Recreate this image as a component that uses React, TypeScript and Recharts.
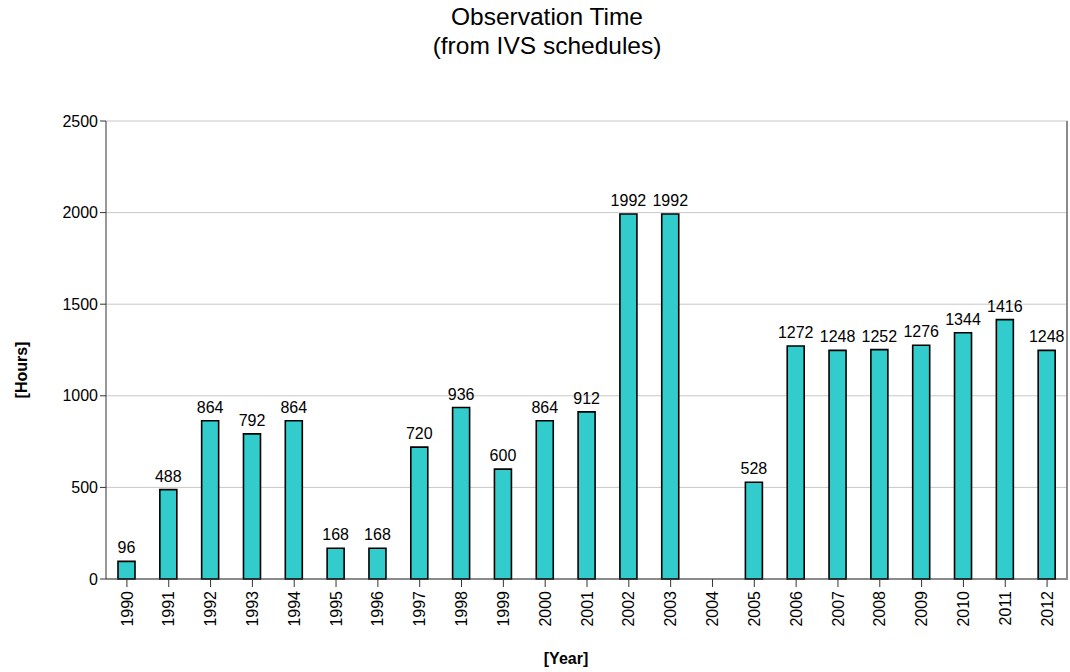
import React from 'react';
import { BarChart, Bar, XAxis, YAxis, CartesianGrid, LabelList } from 'recharts';

const years = ['1990', '1991', '1992', '1993', '1994', '1995', '1996', '1997', '1998', '1999', '2000', '2001',
  '2002', '2003', '2004', '2005', '2006', '2007', '2008', '2009', '2010', '2011', '2012'];
const hours: (number | null)[] = [96, 488, 864, 792, 864, 168, 168, 720, 936, 600, 864, 912,
  1992, 1992, null, 528, 1272, 1248, 1252, 1276, 1344, 1416, 1248];
const yTicks = [0, 500, 1000, 1500, 2000, 2500];

const data = years.map((year, i) => ({ year, hours: hours[i] }));

const FONT = '"Liberation Sans", Arial, sans-serif';

const YearTick = (props: any) => {
  const { x, y, payload } = props;
  return (
    <g transform={`translate(${x},${y})`}>
      <text transform="rotate(-90)" x={-2} y={0} dy="0.35em" textAnchor="end"
        fontSize={16} fontFamily={FONT} fill="#000">
        {payload.value}
      </text>
    </g>
  );
};

const App = () => {
  return (
    <div style={{ position: 'absolute', left: 0, top: 0, width: 1070, height: 672, background: '#fff', fontFamily: FONT }}>
      <div style={{ position: 'absolute', left: 0, top: 2, width: 1094, textAlign: 'center', fontSize: 24.5, lineHeight: '29px', color: '#000' }}>
        Observation Time<br />(from IVS schedules)
      </div>
      <BarChart width={1070} height={672} data={data}
        margin={{ top: 121, right: 2, bottom: 33, left: 46 }} barSize={17}>
        <CartesianGrid vertical={false} stroke="#c8c8c8" />
        <XAxis dataKey="year" interval={0} height={60} tickSize={8} stroke="#333"
          tick={<YearTick />} tickLine={{ stroke: '#333' }} />
        <YAxis domain={[0, 2500]} ticks={yTicks} width={60} tickSize={6} stroke="#333"
          tick={{ fill: '#000', fontSize: 16, fontFamily: FONT }} interval={0} />
        <Bar dataKey="hours" fill="#33cccc" stroke="#000" strokeWidth={1.6} isAnimationActive={false}>
          <LabelList dataKey="hours" position="top" offset={8} fill="#000" fontSize={16} fontFamily={FONT}
            formatter={(v: any) => (v == null ? '' : v)} />
        </Bar>
      </BarChart>
      <div style={{ position: 'absolute', left: 0, top: 0, width: 1070, height: 672, pointerEvents: 'none' }}>
        <svg width={1070} height={672}>
          {/* right frame edge of the plot area */}
          <line x1={1067} y1={121} x2={1067} y2={580} stroke="#8a8a8a" strokeWidth={2} />
          <text x={21} y={370} transform="rotate(-90 21 370)" textAnchor="middle" dominantBaseline="central"
            fontSize={16} fontWeight="bold" fontFamily={FONT} fill="#000">[Hours]</text>
          <text x={566} y={658} textAnchor="middle" dominantBaseline="central"
            fontSize={16} fontWeight="bold" fontFamily={FONT} fill="#000">[Year]</text>
        </svg>
      </div>
    </div>
  );
};

export default App;
